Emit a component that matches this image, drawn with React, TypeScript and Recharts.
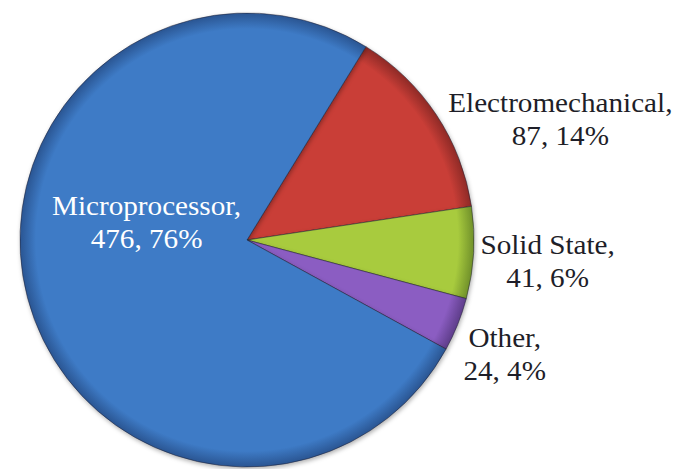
import React from "react";
import { PieChart, Pie, Cell } from "recharts";

// values (clockwise from the top-right)
const categories = ["Electromechanical", "Solid State", "Other", "Microprocessor"];
const counts = [87, 41, 24, 476];
const percentLabels = ["14%", "6%", "4%", "76%"];

const chartData = categories.map((name, i) => ({
  name,
  value: counts[i],
  pct: percentLabels[i],
}));

// layout
const WIDTH = 682;
const HEIGHT = 469;
const CX = 247;
const CY = 240;
const RADIUS = 227;
const START = 58.4;

// base / rim per slice
const SHADES = [
  ["#c93e37", "#8e2a26"], // red
  ["#a8cb3e", "#70902a"], // green
  ["#8b5dc2", "#5e3d8a"], // purple
  ["#3e7bc6", "#2a5592"], // blue
];

// label offset (line 1 baseline) from the slice's outer mid point
const LABEL_SHIFT: [number, number][] = [
  [124, -3],
  [74, 1],
  [47, 22],
  [119, -83],
];

const renderLabel = (props: any) => {
  const { cx, cy, midAngle, outerRadius, index } = props;
  const rad = Math.PI / 180;
  const ex = cx + outerRadius * Math.cos(-midAngle * rad);
  const ey = cy + outerRadius * Math.sin(-midAngle * rad);
  const [dx, dy] = LABEL_SHIFT[index];
  const d = chartData[index];
  const inside = index === 3;
  return (
    <text
      transform={`translate(${ex + dx},${ey + dy}) scale(1.08,1)`}
      textAnchor="middle"
      fontFamily="'Liberation Serif', 'Times New Roman', serif"
      fontSize={27}
      fill={inside ? "#ffffff" : "#1e1e28"}
    >
      <tspan x={0} y={0}>
        {d.name},
      </tspan>
      <tspan x={0} y={33}>
        {d.value}, {d.pct}
      </tspan>
    </text>
  );
};

export default function App() {
  return (
    <div style={{ width: WIDTH, height: HEIGHT, background: "#fff" }}>
      <style>{`body{margin:0;overflow:hidden}
.recharts-pie-sector{filter:drop-shadow(1px 2px 2px rgba(0,0,0,0.3))}`}</style>
      <PieChart width={WIDTH} height={HEIGHT} margin={{ top: 0, right: 0, bottom: 0, left: 0 }}>
        <defs>
          {SHADES.map((s, i) => (
            <radialGradient
              key={`g-${i}`}
              id={`slice-${i}`}
              gradientUnits="userSpaceOnUse"
              cx={CX}
              cy={CY}
              r={RADIUS}
            >
              <stop offset="0%" stopColor={s[0]} />
              <stop offset="93%" stopColor={s[0]} />
              <stop offset="100%" stopColor={s[1]} />
            </radialGradient>
          ))}
        </defs>
        <Pie
          data={chartData}
          dataKey="value"
          nameKey="name"
          cx={CX}
          cy={CY}
          outerRadius={RADIUS}
          startAngle={START}
          endAngle={START - 360}
          stroke="rgba(30,30,50,0.5)"
          strokeWidth={1}
          labelLine={false}
          label={renderLabel}
          isAnimationActive={false}
        >
          {chartData.map((entry, index) => (
            <Cell key={`cell-${index}`} fill={`url(#slice-${index})`} />
          ))}
        </Pie>
      </PieChart>
    </div>
  );
}
